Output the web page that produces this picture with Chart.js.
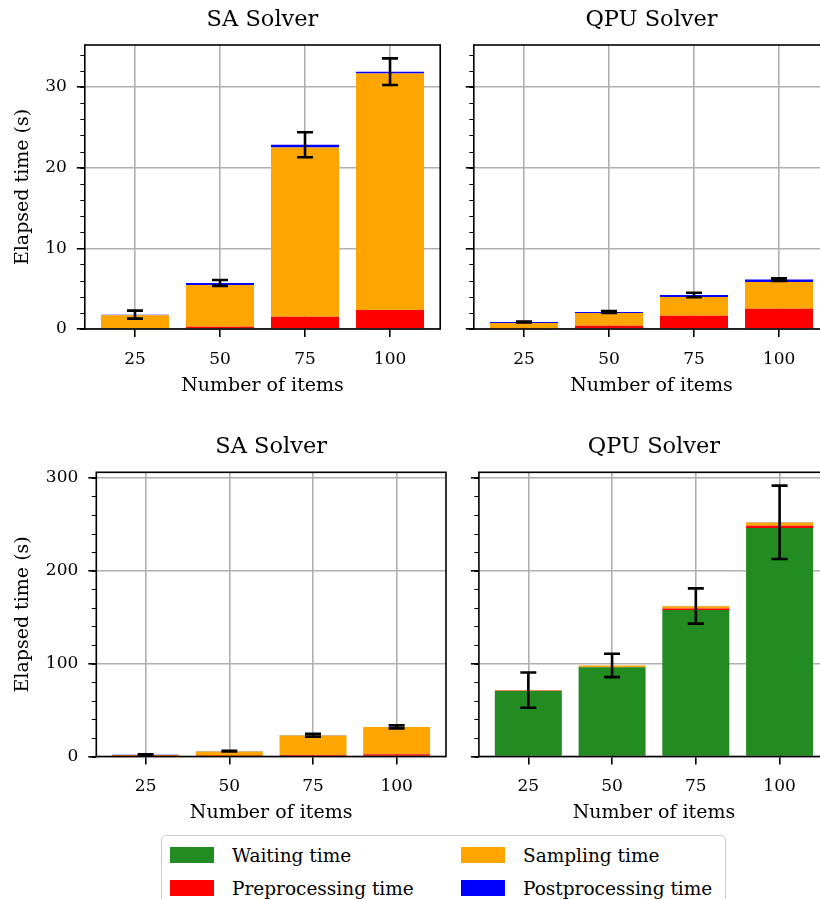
<!DOCTYPE html>
<html>
<head>
<meta charset="utf-8">
<script src="https://cdn.jsdelivr.net/npm/chart.js@4.4.1/dist/chart.umd.min.js"></script>
<style>
html, body { margin: 0; padding: 0; background: #fff; overflow: hidden; width: 820px; height: 899px; }
canvas { position: absolute; }
#legend { position: absolute; left: 161px; top: 835px; width: 563px; height: 90px;
  border: 1.5px solid #cccccc; border-radius: 5px; background: rgba(255,255,255,0.8);
  font-family: 'DejaVu Serif', 'Liberation Serif', serif; font-size: 18.5px; color: #000; }
.item { position: absolute; display: flex; align-items: center; height: 24px; white-space: nowrap; }
.patch { width: 44px; height: 16px; margin-right: 18px; }
</style>
</head>
<body>
<canvas id="c0"></canvas>
<canvas id="c1"></canvas>
<canvas id="c2"></canvas>
<canvas id="c3"></canvas>
<div id="legend"></div>
<script>
// ---------------- DATA ----------------
const categories = ['25', '50', '75', '100'];
const seriesNames = ['Waiting time', 'Preprocessing time', 'Sampling time', 'Postprocessing time'];

// SA solver (seconds)
const saPreprocessing  = [0.08, 0.29, 1.53, 2.36];
const saSampling       = [1.62, 5.17, 20.97, 29.31];
const saPostprocessing = [0.08, 0.25, 0.33, 0.22];
const saErr            = [0.50, 0.37, 1.55, 1.65];

// QPU solver (seconds)
const qpuWaiting        = [70.6, 96.0, 157.8, 246.0];
const qpuPreprocessing  = [0.06, 0.41, 1.65, 2.52];
const qpuSampling       = [0.68, 1.57, 2.32, 3.31];
const qpuPostprocessing = [0.13, 0.13, 0.25, 0.29];
const qpuErrNoWait      = [0.06, 0.12, 0.28, 0.15];
const qpuErrWithWait    = [19.0, 12.6, 19.0, 39.5];

// axis ticks
const yTicksTop = [0, 10, 20, 30];
const yTicksBottom = [0, 100, 200, 300];
const yMaxTop = 35.2;
const yMaxBottom = 306;
const minorStepTop = 2;
const minorStepBottom = 20;

// ---------------- STYLE ----------------
const colors = {
  'Waiting time': '#228b22',
  'Preprocessing time': '#ff0000',
  'Sampling time': '#ffa500',
  'Postprocessing time': '#0000ff'
};
Chart.defaults.font.family = "'DejaVu Serif', 'Liberation Serif', serif";
Chart.defaults.color = '#000';

const errPlugin = {
  id: 'errbars',
  afterDatasetsDraw(chart, args, opts) {
    const ctx = chart.ctx, xs = chart.scales.x, ys = chart.scales.y;
    const ds = chart.data.datasets;
    ctx.save();
    ctx.strokeStyle = '#000';
    ctx.lineWidth = 2.6;
    ctx.lineCap = 'butt';
    opts.err.forEach((e, i) => {
      let c = 0;
      ds.forEach(d => { c += d.data[i].y; });
      const x = xs.getPixelForValue(i);
      const y1 = ys.getPixelForValue(c + e);
      const y2 = ys.getPixelForValue(c - e);
      ctx.beginPath();
      ctx.moveTo(x, y1); ctx.lineTo(x, y2);
      ctx.moveTo(x - 8, y1); ctx.lineTo(x + 8, y1);
      ctx.moveTo(x - 8, y2); ctx.lineTo(x + 8, y2);
      ctx.stroke();
    });
    ctx.restore();
  }
};

const framePlugin = {
  id: 'frame',
  afterDatasetsDraw(chart, args, opts) {
    const ctx = chart.ctx, a = chart.chartArea, ys = chart.scales.y;
    ctx.save();
    ctx.strokeStyle = '#000';
    ctx.lineWidth = 1.6;
    ctx.strokeRect(a.left, a.top, a.right - a.left, a.bottom - a.top);
    // minor ticks on the left spine
    ctx.lineWidth = 1.2;
    ctx.beginPath();
    for (let v = 0; v <= ys.max; v += opts.step) {
      const p = Math.round(ys.getPixelForValue(v)) + 0.5;
      ctx.moveTo(a.left - 4.5, p); ctx.lineTo(a.left, p);
    }
    ctx.stroke();
    ctx.restore();
  }
};

function makePanel(cfg) {
  const cv = document.getElementById(cfg.id);
  cv.width = cfg.w; cv.height = cfg.h;
  cv.style.left = cfg.x0 + 'px'; cv.style.top = cfg.y0 + 'px';
  cv.style.width = cfg.w + 'px'; cv.style.height = cfg.h + 'px';
  const A = cfg.area;
  const titleSize = 22.5, titleLH = titleSize * 1.2;
  const tPadTop = (cfg.titleY - cfg.y0) - titleLH / 2;
  const tPadBottom = (A.t - cfg.y0) - tPadTop - titleLH;
  const xH = cfg.y0 + cfg.h - A.b;
  const labelSize = 19;
  const xTitlePadBottom = (cfg.y0 + cfg.h) - cfg.xTitleY - labelSize * 1.2 / 2;
  const yW = A.l - cfg.x0;
  const padRight = cfg.x0 + cfg.w - A.r;
  const grid = { color: '#b0b0b0', lineWidth: 1.6, tickLength: 8, tickColor: '#000', tickWidth: 1.6, offset: false };
  const datasets = cfg.series.map(s => ({
    label: s.name,
    data: s.values.map((v, i) => ({ x: i, y: v })),
    backgroundColor: colors[s.name],
    borderWidth: 0,
    categoryPercentage: 1.0,
    barPercentage: 0.8
  }));
  return new Chart(cv, {
    type: 'bar',
    data: { datasets },
    plugins: [errPlugin, framePlugin],
    options: {
      responsive: false, animation: false, events: [],
      layout: { padding: { left: 0, top: 0, right: padRight, bottom: 0 } },
      plugins: {
        legend: { display: false }, tooltip: { enabled: false },
        title: { display: true, text: cfg.title, fullSize: false, color: '#000',
          font: { size: titleSize, weight: 'normal', lineHeight: 1.2 },
          padding: { top: tPadTop, bottom: tPadBottom } },
        errbars: { err: cfg.err },
        frame: { step: cfg.minorStep }
      },
      scales: {
        x: {
          type: 'linear', stacked: true, min: -0.59, max: 3.59, offset: false,
          afterBuildTicks: s => { s.ticks = categories.map((c, i) => ({ value: i })); },
          afterFit: s => { s.height = xH; },
          ticks: { autoSkip: false, maxRotation: 0, padding: 12, font: { size: 17 }, color: '#000',
            callback: (v, i) => categories[i] },
          grid: grid,
          border: { display: false },
          title: { display: true, text: 'Number of items', color: '#000',
            font: { size: labelSize, lineHeight: 1.2 }, padding: { top: 0, bottom: xTitlePadBottom } }
        },
        y: {
          type: 'linear', stacked: true, min: 0, max: cfg.yMax,
          afterBuildTicks: s => { s.ticks = cfg.yTicks.map(v => ({ value: v })); },
          afterFit: s => { s.width = yW; },
          ticks: { display: cfg.showY, padding: 10, font: { size: 17 }, color: '#000' },
          grid: grid,
          border: { display: false },
          title: { display: cfg.showY, text: 'Elapsed time (s)', color: '#000',
            font: { size: labelSize, lineHeight: 1.2 }, padding: { top: 12, bottom: 0 } }
        }
      }
    }
  });
}

const saSeries = [
  { name: 'Preprocessing time', values: saPreprocessing },
  { name: 'Sampling time', values: saSampling },
  { name: 'Postprocessing time', values: saPostprocessing }
];
const qpuSeriesNoWait = [
  { name: 'Preprocessing time', values: qpuPreprocessing },
  { name: 'Sampling time', values: qpuSampling },
  { name: 'Postprocessing time', values: qpuPostprocessing }
];
const qpuSeriesWithWait = [
  { name: 'Waiting time', values: qpuWaiting },
  { name: 'Preprocessing time', values: qpuPreprocessing },
  { name: 'Sampling time', values: qpuSampling },
  { name: 'Postprocessing time', values: qpuPostprocessing }
];

makePanel({ id: 'c0', x0: 0, y0: 0, w: 460, h: 420, area: { l: 84.8, t: 45, r: 440.2, b: 329 },
  titleY: 20.5, xTitleY: 386, title: 'SA Solver', series: saSeries, err: saErr,
  yMax: yMaxTop, yTicks: yTicksTop, minorStep: minorStepTop, showY: true });
makePanel({ id: 'c1', x0: 456, y0: 0, w: 404, h: 420, area: { l: 473.8, t: 45, r: 829.2, b: 329 },
  titleY: 20.5, xTitleY: 386, title: 'QPU Solver', series: qpuSeriesNoWait, err: qpuErrNoWait,
  yMax: yMaxTop, yTicks: yTicksTop, minorStep: minorStepTop, showY: false });
makePanel({ id: 'c2', x0: 0, y0: 425, w: 460, h: 410, area: { l: 96.3, t: 472.3, r: 446, b: 756.5 },
  titleY: 447, xTitleY: 813.5, title: 'SA Solver', series: saSeries, err: saErr,
  yMax: yMaxBottom, yTicks: yTicksBottom, minorStep: minorStepBottom, showY: true });
makePanel({ id: 'c3', x0: 460, y0: 425, w: 400, h: 410, area: { l: 478.9, t: 472.3, r: 829, b: 756.5 },
  titleY: 447, xTitleY: 813.5, title: 'QPU Solver', series: qpuSeriesWithWait, err: qpuErrWithWait,
  yMax: yMaxBottom, yTicks: yTicksBottom, minorStep: minorStepBottom, showY: false });

// ---------------- LEGEND (2 columns, column-major like matplotlib) ----------------
const legend = document.getElementById('legend');
const legendPos = [
  { left: 8, top: 7 },    // Waiting
  { left: 8, top: 40 },   // Preprocessing
  { left: 299, top: 7 },  // Sampling
  { left: 299, top: 40 }  // Postprocessing
];
seriesNames.forEach((name, i) => {
  const it = document.createElement('div');
  it.className = 'item';
  it.style.left = legendPos[i].left + 'px';
  it.style.top = legendPos[i].top + 'px';
  const p = document.createElement('div');
  p.className = 'patch';
  p.style.background = colors[name];
  const t = document.createElement('span');
  t.textContent = name;
  it.appendChild(p); it.appendChild(t);
  legend.appendChild(it);
});
</script>
</body>
</html>
